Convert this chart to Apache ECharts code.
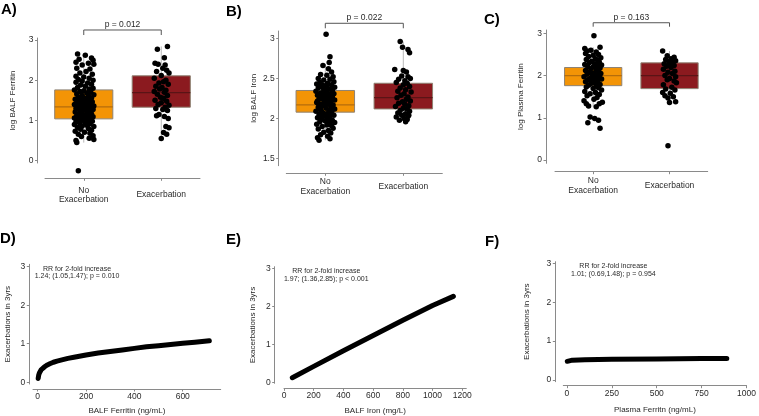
<!DOCTYPE html>
<html>
<head>
<meta charset="utf-8">
<script src="https://cdn.jsdelivr.net/npm/echarts@6/dist/echarts.min.js"></script>
<style>
    html, body { margin: 0; padding: 0; background: #fff; }
    #main { width: 759px; height: 416px; }
</style>
</head>
<body>
<div id="main"></div>
<script>
// categories
const groups = ['No\nExacerbation', 'Exacerbation'];

// box stats: [group, lower whisker, q1, median, q3, upper whisker]
const balfFerritinBox = [[0, 0.45, 1.04, 1.34, 1.76, 2.65], [1, 0.54, 1.33, 1.69, 2.11, 2.84]];
const balfIronBox = [[0, 1.73, 2.08, 2.17, 2.35, 2.68], [1, 1.96, 2.12, 2.26, 2.44, 2.96]];
const plasmaFerritinBox = [[0, 1.26, 1.76, 2.0, 2.19, 2.67], [1, 1.36, 1.69, 2.0, 2.30, 2.58]];

// jittered points: [jitter, value]
const balfFerritinNo = [
    [-0.08,2.65],[0.02,2.62],[0.1,2.55],[0.12,2.5],[-0.06,2.52],[-0.1,2.45],[0.06,2.42],[-0.02,2.38],[0.13,2.4],[-0.09,2.3],
    [0.08,2.28],[0.03,2.22],[-0.05,2.18],[0.11,2.15],[-0.1,2.1],[0.0,2.08],[0.07,2.05],[-0.07,2.02],[0.12,2.0],[-0.02,1.98],
    [-0.1,1.95],[0.05,1.93],[0.1,1.9],[-0.04,1.88],[0.02,1.85],[-0.08,1.82],[0.12,1.8],[0.07,1.78],[-0.12,1.76],[0.0,1.74],
    [-0.05,1.72],[0.09,1.7],[0.04,1.68],[-0.09,1.66],[0.13,1.64],[-0.02,1.62],[0.06,1.6],[-0.07,1.58],[0.1,1.56],[0.01,1.55],
    [-0.11,1.53],[0.05,1.52],[-0.03,1.5],[0.08,1.49],[-0.06,1.47],[0.11,1.46],[0.02,1.45],[-0.09,1.44],[0.06,1.42],[-0.01,1.41],
    [-0.12,1.4],[0.09,1.39],[0.03,1.38],[-0.05,1.37],[0.13,1.36],[-0.08,1.35],[0.0,1.34],[0.07,1.33],[-0.03,1.32],[0.1,1.31],
    [-0.1,1.3],[0.04,1.29],[-0.06,1.28],[0.12,1.27],[0.01,1.26],[-0.04,1.24],[0.08,1.22],[-0.11,1.21],[0.05,1.2],[-0.02,1.18],
    [0.1,1.16],[-0.07,1.15],[0.03,1.14],[-0.09,1.12],[0.07,1.11],[-0.01,1.1],[0.12,1.09],[-0.05,1.08],[0.04,1.07],[-0.12,1.06],
    [0.09,1.05],[0.0,1.04],[-0.07,1.03],[0.06,1.02],[-0.03,1.0],[0.11,0.98],[-0.1,0.97],[0.02,0.95],[-0.05,0.93],[0.08,0.92],
    [-0.12,0.9],[0.04,0.88],[-0.02,0.86],[0.13,0.85],[-0.08,0.83],[0.06,0.8],[-0.04,0.78],[0.1,0.76],[-0.11,0.73],[0.01,0.71],
    [0.08,0.68],[-0.07,0.66],[0.12,0.62],[-0.03,0.6],[0.07,0.56],[0.13,0.53],[-0.1,0.5],[-0.09,0.45],[-0.07,-0.25]
];
const balfFerritinExac = [
    [-0.05,2.77],[0.08,2.84],[0.04,2.56],[-0.08,2.42],[-0.04,2.4],[0.05,2.38],[0.02,2.3],[0.07,2.25],[-0.06,2.22],[0.1,2.18],
    [0.0,2.12],[-0.09,2.05],[0.06,2.0],[0.03,1.96],[-0.03,1.93],[0.09,1.9],[-0.07,1.85],[0.01,1.82],[-0.02,1.78],[0.06,1.75],
    [-0.09,1.72],[0.04,1.7],[-0.05,1.65],[0.08,1.62],[-0.01,1.58],[0.03,1.55],[-0.08,1.5],[0.07,1.48],[0.0,1.44],[-0.04,1.4],
    [0.1,1.38],[0.05,1.33],[-0.07,1.3],[0.02,1.27],[0.08,1.25],[-0.03,1.15],[-0.06,1.12],[0.04,1.1],[0.09,1.05],[0.06,0.85],
    [0.1,0.82],[0.03,0.7],[0.07,0.66],[0.0,0.55]
];
const balfIronNo = [
    [0.01,3.05],[0.06,2.77],[0.05,2.7],[-0.03,2.66],[0.04,2.62],[0.08,2.58],[-0.06,2.55],[0.02,2.54],[0.1,2.52],[-0.09,2.5],
    [0.06,2.49],[-0.02,2.48],[0.11,2.46],[-0.07,2.45],[0.03,2.44],[-0.11,2.43],[0.08,2.42],[0.0,2.41],[-0.05,2.4],[0.12,2.39],
    [-0.09,2.38],[0.05,2.37],[-0.02,2.36],[0.09,2.35],[-0.12,2.34],[0.02,2.33],[-0.06,2.32],[0.11,2.31],[0.06,2.3],[-0.1,2.29],
    [0.0,2.28],[-0.04,2.27],[0.09,2.26],[0.03,2.25],[-0.08,2.24],[0.12,2.23],[-0.01,2.22],[0.06,2.21],[-0.11,2.2],[0.04,2.19],
    [-0.05,2.18],[0.1,2.17],[-0.02,2.16],[0.07,2.15],[-0.09,2.14],[0.01,2.13],[0.12,2.12],[-0.06,2.11],[0.05,2.1],[-0.12,2.09],
    [0.08,2.08],[-0.03,2.07],[0.02,2.06],[-0.08,2.05],[0.11,2.04],[-0.01,2.03],[0.06,2.02],[-0.1,2.01],[0.03,2.0],[-0.05,1.99],
    [0.09,1.98],[0.0,1.97],[-0.07,1.96],[0.12,1.95],[0.05,1.94],[-0.11,1.93],[0.02,1.92],[0.08,1.91],[-0.04,1.9],[0.1,1.88],
    [-0.09,1.87],[0.04,1.85],[-0.02,1.83],[0.07,1.82],[-0.06,1.8],[0.03,1.78],[-0.1,1.76],[0.06,1.75],[-0.08,1.73],
    [0.0,2.35],[0.03,2.3],[-0.03,2.24],[0.07,2.19],[-0.07,2.13],[0.09,2.28],[-0.04,2.42],[0.01,2.18],[0.05,2.05],[-0.05,2.09],
    [0.1,2.12],[-0.1,2.22],[0.04,2.27],[-0.02,2.31],[0.08,2.36],[-0.08,2.18],[0.0,2.05],[0.06,1.97],[-0.06,2.02],[0.02,2.4]
];
const balfIronExac = [
    [-0.04,2.96],[-0.01,2.89],[0.06,2.86],[0.08,2.82],[-0.11,2.61],[0.0,2.6],[0.04,2.58],[-0.02,2.53],[0.06,2.52],[0.09,2.5],
    [-0.06,2.49],[0.02,2.47],[-0.09,2.45],[0.05,2.44],[0.0,2.42],[0.08,2.4],[-0.04,2.38],[0.03,2.36],[-0.07,2.34],[0.1,2.33],
    [0.01,2.31],[-0.03,2.29],[0.06,2.27],[-0.08,2.26],[0.04,2.24],[0.09,2.22],[-0.01,2.21],[-0.06,2.19],[0.02,2.18],[0.07,2.16],
    [-0.1,2.15],[0.0,2.13],[0.05,2.12],[-0.04,2.1],[0.08,2.09],[-0.07,2.07],[0.03,2.06],[-0.02,2.04],[0.06,2.03],[-0.09,2.02],
    [0.01,2.0],[0.05,1.99],[-0.05,1.98],[0.03,1.96],[0.07,2.04]
];
const plasmaFerritinNo = [
    [0.01,2.94],[0.09,2.67],[-0.11,2.64],[-0.08,2.58],[-0.03,2.6],[0.04,2.56],[-0.1,2.52],[0.07,2.5],[0.0,2.48],[-0.06,2.45],
    [0.1,2.42],[0.03,2.4],[-0.09,2.38],[0.06,2.36],[-0.02,2.34],[0.08,2.32],[-0.05,2.3],[0.02,2.28],[-0.11,2.26],[0.11,2.25],
    [0.05,2.23],[-0.07,2.21],[0.0,2.2],[0.09,2.18],[-0.03,2.16],[0.04,2.14],[-0.1,2.12],[0.07,2.1],[-0.05,2.08],[0.01,2.06],
    [0.1,2.05],[-0.08,2.03],[0.05,2.01],[-0.01,2.0],[0.08,1.98],[-0.12,1.97],[0.03,1.95],[-0.04,1.93],[0.11,1.92],[-0.07,1.9],
    [0.0,1.88],[0.06,1.86],[-0.1,1.85],[0.02,1.83],[-0.03,1.81],[0.09,1.79],[-0.06,1.77],[0.04,1.75],[-0.09,1.73],[0.07,1.71],
    [0.0,1.69],[0.11,1.66],[-0.11,1.62],[0.03,1.6],[-0.04,1.57],[0.08,1.55],[-0.08,1.52],[0.05,1.48],[-0.12,1.4],[0.01,1.44],
    [0.12,1.37],[-0.09,1.33],[0.08,1.33],[-0.06,1.28],[0.04,1.26],[0.02,0.98],[-0.07,0.88],[0.07,0.94],[0.09,0.75],[-0.04,1.02]
];
const plasmaFerritinExac = [
    [-0.09,2.58],[-0.03,2.47],[0.06,2.43],[0.02,2.4],[-0.05,2.38],[0.08,2.35],[-0.01,2.33],[0.04,2.3],[-0.07,2.28],[0.0,2.26],
    [0.06,2.24],[-0.04,2.22],[0.02,2.19],[-0.08,2.15],[0.07,2.1],[-0.02,2.08],[0.04,2.05],[-0.06,2.0],[0.08,1.97],[0.0,1.93],
    [-0.03,1.9],[0.06,1.87],[0.09,1.83],[-0.08,1.78],[0.03,1.72],[-0.05,1.68],[0.07,1.66],[-0.09,1.6],[0.01,1.58],[-0.06,1.52],
    [0.05,1.5],[-0.02,1.47],[0.08,1.38],[0.0,1.36],[-0.02,0.34]
];
const pValues = ['p = 0.012', 'p = 0.022', 'p = 0.163'];

// fitted curves (x, exacerbations in 3yrs)
const ferritinX = [2, 4, 7, 10, 15, 20, 30, 40, 50, 65, 80, 100, 125, 150, 200, 250, 300, 350, 400, 450, 500, 550, 600, 650, 710];
const ferritinY = [0.10, 0.18, 0.24, 0.28, 0.33, 0.36, 0.41, 0.45, 0.48, 0.52, 0.55, 0.58, 0.62, 0.65, 0.71, 0.76, 0.80, 0.84, 0.88, 0.92, 0.95, 0.98, 1.01, 1.04, 1.08];
const ironX = [56, 200, 400, 600, 800, 1000, 1140];
const ironY = [0.12, 0.42, 0.83, 1.23, 1.63, 2.02, 2.26];
const plasmaX = [2, 10, 30, 100, 250, 500, 750, 890];
const plasmaY = [0.48, 0.50, 0.51, 0.52, 0.53, 0.54, 0.55, 0.55];
const rrTexts = [
    'RR for 2-fold increase\n1.24; (1.05,1.47); p = 0.010',
    'RR for 2-fold increase\n1.97; (1.36,2.85); p < 0.001',
    'RR for 2-fold increase\n1.01; (0.69,1.48); p = 0.954'
];

// tick labels
const ticksLog3 = [0, 1, 2, 3];
const ticksIron = [1.5, 2, 2.5, 3];
const ticksFerritinX = [0, 200, 400, 600];
const ticksIronX = [0, 200, 400, 600, 800, 1000, 1200];
const ticksPlasmaX = [0, 250, 500, 750, 1000];

const FONT = 'Liberation Sans, Arial, sans-serif';
const AXIS = '#8a8a8a';
const TXT = '#2a2a2a';
const boxFill = ['#f39406', '#8b1a1f'];
const medianColor = ['#b56d0c', '#5a1416'];

const chart = echarts.init(document.getElementById('main'));

// panel layout: grid box + axis offsets
const panels = [
    {left: 45, top: 38, width: 155, height: 125, yOff: 7.5, xOff: 15.3, ymin: -0.057, ymax: 3.05, xmin: -0.5, xmax: 1.5, lblMargin: 16.7, nameGap: 21},
    {left: 286.3, top: 31, width: 156, height: 134.7, yOff: 7.6, xOff: 7.6, ymin: 1.413, ymax: 3.091, xmin: -0.5, xmax: 1.5, lblMargin: 13.4, nameGap: 20},
    {left: 555, top: 30, width: 152.7, height: 133.3, yOff: 9, xOff: 8.4, ymin: -0.078, ymax: 3.078, xmin: -0.5, xmax: 1.5, lblMargin: 14, nameGap: 21.5},
    {left: 33, top: 264.3, width: 187.7, height: 119.7, yOff: 3.7, xOff: 5, ymin: -0.044, ymax: 3.06, xmin: -19.4, xmax: 757, lblMargin: 3, nameGap: 18},
    {left: 284, top: 266.7, width: 182.3, height: 116.6, yOff: 9.3, xOff: 5, ymin: -0.026, ymax: 3.04, xmin: 0, xmax: 1227, lblMargin: 3, nameGap: 18},
    {left: 563.3, top: 261.7, width: 186, height: 120, yOff: 8, xOff: 4, ymin: -0.044, ymax: 3.04, xmin: -20.3, xmax: 1000, lblMargin: 3, nameGap: 20.5}
];
const yNames = ['log BALF Ferritin', 'log BALF Iron', 'log Plasma Ferritin', 'Exacerbations in 3yrs', 'Exacerbations in 3yrs', 'Exacerbations in 3yrs'];
const yNameGaps = [21, 21, 21.5, 18, 18, 24.5];
const xNames = ['', '', '', 'BALF Ferritin (ng/mL)', 'BALF Iron (mg/L)', 'Plasma Ferritn (ng/mL)'];
const yTicks = [ticksLog3, ticksIron, ticksLog3, ticksLog3, ticksLog3, ticksLog3];
const xTicks = [[0, 1], [0, 1], [0, 1], ticksFerritinX, ticksIronX, ticksPlasmaX];

const grids = panels.map(p => ({left: p.left, top: p.top, width: p.width, height: p.height}));

const xAxes = panels.map((p, i) => ({
    type: 'value',
    gridIndex: i,
    min: p.xmin,
    max: p.xmax,
    offset: p.xOff,
    name: xNames[i],
    nameLocation: 'middle',
    nameGap: p.nameGap,
    nameTextStyle: {fontFamily: FONT, fontSize: 8, color: TXT},
    axisLine: {show: true, onZero: false, lineStyle: {color: AXIS, width: 1}},
    axisTick: {show: true, length: 2.5, customValues: xTicks[i], lineStyle: {color: AXIS}},
    axisLabel: {
        customValues: xTicks[i],
        margin: p.lblMargin,
        fontFamily: FONT,
        fontSize: 8.5,
        color: TXT,
        lineHeight: 9.5,
        verticalAlign: i < 3 ? 'middle' : 'top',
        formatter: i < 3 ? (v) => groups[Math.round(v)] : (v) => String(v)
    },
    splitLine: {show: false}
}));

const yAxes = panels.map((p, i) => ({
    type: 'value',
    gridIndex: i,
    min: p.ymin,
    max: p.ymax,
    offset: p.yOff,
    name: yNames[i],
    nameLocation: 'middle',
    nameGap: yNameGaps[i],
    nameTextStyle: {fontFamily: FONT, fontSize: 8, color: TXT},
    axisLine: {show: true, onZero: false, lineStyle: {color: AXIS, width: 1}},
    axisTick: {show: true, length: 2.5, customValues: yTicks[i], lineStyle: {color: AXIS}},
    axisLabel: {customValues: yTicks[i], margin: 4, fontFamily: FONT, fontSize: 8.5, color: TXT},
    splitLine: {show: false}
}));

function renderBox(params, api) {
    const g = api.value(0);
    const lo = api.coord([g, api.value(1)]);
    const q1 = api.coord([g, api.value(2)]);
    const med = api.coord([g, api.value(3)]);
    const q3 = api.coord([g, api.value(4)]);
    const hi = api.coord([g, api.value(5)]);
    const w = api.size([0.75, 0])[0];
    const x0 = q1[0] - w / 2;
    return {
        type: 'group',
        children: [
            {type: 'line', shape: {x1: lo[0], y1: lo[1], x2: hi[0], y2: hi[1]}, style: {stroke: '#b8b8b8', lineWidth: 1}},
            {type: 'rect', shape: {x: x0, y: q3[1], width: w, height: q1[1] - q3[1]}, style: {fill: boxFill[g], stroke: '#8e8273', lineWidth: 1}},
            {type: 'line', shape: {x1: x0, y1: med[1], x2: x0 + w, y2: med[1]}, style: {stroke: medianColor[g], lineWidth: 1.2}}
        ]
    };
}

// bracket: [left group, right group, bar height, end height]
const brackets = [[0, 1, 3.249, 3.124], [0, 1, 3.187, 3.125], [0, 1, 3.25, 3.156]];

function bracketRenderer(k) {
    return function (params, api) {
        const a = api.coord([api.value(0), api.value(2)]);
        const b = api.coord([api.value(1), api.value(2)]);
        const a2 = api.coord([api.value(0), api.value(3)]);
        const b2 = api.coord([api.value(1), api.value(3)]);
        return {
            type: 'group',
            children: [
                {type: 'polyline', shape: {points: [a2, a, b, b2]}, style: {stroke: '#555', lineWidth: 1, fill: null}},
                {type: 'text', style: {text: pValues[k], x: (a[0] + b[0]) / 2, y: a[1] - 1, align: 'center', verticalAlign: 'bottom', font: '8.5px ' + FONT, fill: TXT}}
            ]
        };
    };
}

const boxSets = [balfFerritinBox, balfIronBox, plasmaFerritinBox];
const pointSets = [[balfFerritinNo, balfFerritinExac], [balfIronNo, balfIronExac], [plasmaFerritinNo, plasmaFerritinExac]];
const series = [];
for (let i = 0; i < 3; i++) {
    series.push({
        type: 'custom', xAxisIndex: i, yAxisIndex: i, renderItem: renderBox,
        data: boxSets[i], z: 1, silent: true
    });
    for (let g = 0; g < 2; g++) {
        series.push({
            type: 'scatter', xAxisIndex: i, yAxisIndex: i, clip: false,
            symbolSize: 5.5, itemStyle: {color: '#000', opacity: 1}, z: 3, silent: true,
            data: pointSets[i][g].map(p => [g + p[0], p[1]])
        });
    }
    series.push({
        type: 'custom', xAxisIndex: i, yAxisIndex: i, renderItem: bracketRenderer(i),
        data: [brackets[i]], clip: false, z: 4, silent: true
    });
}
const curves = [[ferritinX, ferritinY], [ironX, ironY], [plasmaX, plasmaY]];
curves.forEach((c, k) => {
    series.push({
        type: 'line', xAxisIndex: 3 + k, yAxisIndex: 3 + k,
        data: c[0].map((x, j) => [x, c[1][j]]),
        smooth: false, showSymbol: false, silent: true,
        lineStyle: {color: '#000', width: 5, cap: 'round', join: 'round'}
    });
});

const panelLabels = [
    {t: 'A)', x: 1, y: 2}, {t: 'B)', x: 226, y: 4}, {t: 'C)', x: 484, y: 12},
    {t: 'D)', x: 0, y: 231}, {t: 'E)', x: 226, y: 232}, {t: 'F)', x: 485, y: 234}
];
const rrPos = [{x: 77, y: 272.5}, {x: 326.3, y: 275}, {x: 613.4, y: 270}];

const graphic = panelLabels.map(l => ({
    type: 'text', style: {text: l.t, x: l.x, y: l.y, font: 'bold 15px ' + FONT, fill: '#000', verticalAlign: 'top'}
})).concat(rrTexts.map((t, k) => ({
    type: 'text', style: {text: t, x: rrPos[k].x, y: rrPos[k].y, align: 'center', verticalAlign: 'middle', font: '7px ' + FONT, lineHeight: 7.2, fill: TXT}
})));

chart.setOption({
    animation: false,
    backgroundColor: '#fff',
    grid: grids,
    xAxis: xAxes,
    yAxis: yAxes,
    series: series,
    graphic: graphic
});
</script>
</body>
</html>
